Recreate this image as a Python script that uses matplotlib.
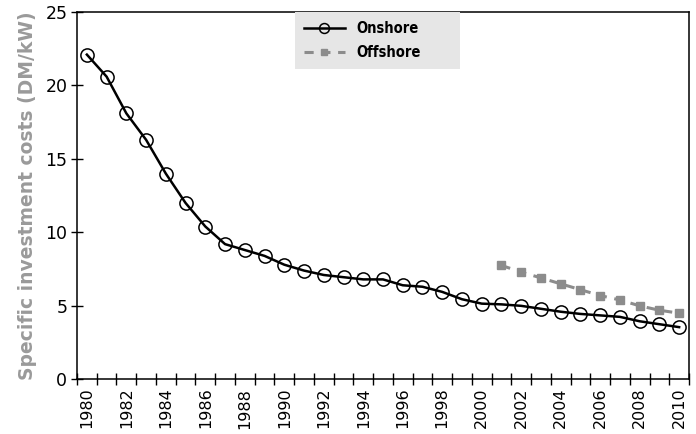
import matplotlib
matplotlib.use("Agg")
import matplotlib.pyplot as plt
from matplotlib.ticker import FixedLocator, NullFormatter

# 数据
years = list(range(1980, 2011))
onshore = [22.1, 20.6, 18.1, 16.3, 14.0, 12.0, 10.4, 9.2, 8.8, 8.4,
           7.8, 7.4, 7.1, 6.95, 6.8, 6.8, 6.4, 6.3, 5.95, 5.45,
           5.15, 5.1, 5.0, 4.8, 4.6, 4.45, 4.35, 4.25, 3.95, 3.75, 3.55]
offshore_years = list(range(2001, 2011))
offshore = [7.75, 7.3, 6.9, 6.5, 6.1, 5.7, 5.4, 5.0, 4.7, 4.5]
tick_years = list(range(1980, 2011, 2))

fig = plt.figure(figsize=(6.96, 4.34), dpi=100)
ax = fig.add_axes([77 / 696, 1 - 379.3 / 434, 612 / 696, (379.3 - 12) / 434])

x_on = [years.index(y) for y in years]
x_off = [years.index(y) for y in offshore_years]

ax.plot(x_on, onshore, color="black", lw=1.8, marker="o", markersize=9.5,
        markerfacecolor="none", markeredgecolor="black", markeredgewidth=1.1,
        label="Onshore", zorder=3)
ax.plot(x_off, offshore, color="#8c8c8c", lw=2.2, ls=(0, (3, 2.5)), marker="s",
        markersize=6, markerfacecolor="#8c8c8c", markeredgecolor="#8c8c8c",
        label="Offshore", zorder=2)

# 类别轴：刻度在类别之间，标签在中间
ax.set_xlim(-0.5, len(years) - 0.5)
ax.xaxis.set_major_locator(FixedLocator([i - 0.5 for i in range(len(years) + 1)]))
ax.xaxis.set_major_formatter(NullFormatter())
ax.xaxis.set_minor_locator(FixedLocator([years.index(y) for y in tick_years]))
ax.set_xticklabels([str(y) for y in tick_years], minor=True, rotation=90,
                   fontsize=11.5, fontfamily="DejaVu Sans")
ax.tick_params(axis="x", which="major", direction="inout", length=8, width=1)
ax.tick_params(axis="x", which="minor", length=0, pad=6)

ax.set_ylim(0, 25)
ax.set_yticks([0, 5, 10, 15, 20, 25])
ax.tick_params(axis="y", direction="inout", length=8, width=1, labelsize=12.5, pad=3)
for lbl in ax.get_yticklabels():
    lbl.set_fontfamily("DejaVu Sans")

for s in ax.spines.values():
    s.set_linewidth(1.1)

ax.set_ylabel("Specific investment costs (DM/kW)", fontsize=13.5, fontweight="bold",
              color="#9a9a9a", fontfamily="DejaVu Sans", labelpad=6)

leg_h = 58 / 367.3
leg = ax.legend(loc="upper left", bbox_to_anchor=(218 / 612, 1.0 - leg_h, 165 / 612, leg_h),
                mode="expand", frameon=True,
                fancybox=False, framealpha=1, edgecolor="none", facecolor="#e6e6e6",
                prop={"family": "DejaVu Sans", "size": 10.5, "stretch": "condensed",
                      "weight": "bold"},
                handlelength=2.8, handletextpad=0.8, borderpad=0.6, labelspacing=0.65,
                borderaxespad=0.0, markerscale=0.75)
leg.get_frame().set_linewidth(0)

fig.savefig("out.png", dpi=100)
